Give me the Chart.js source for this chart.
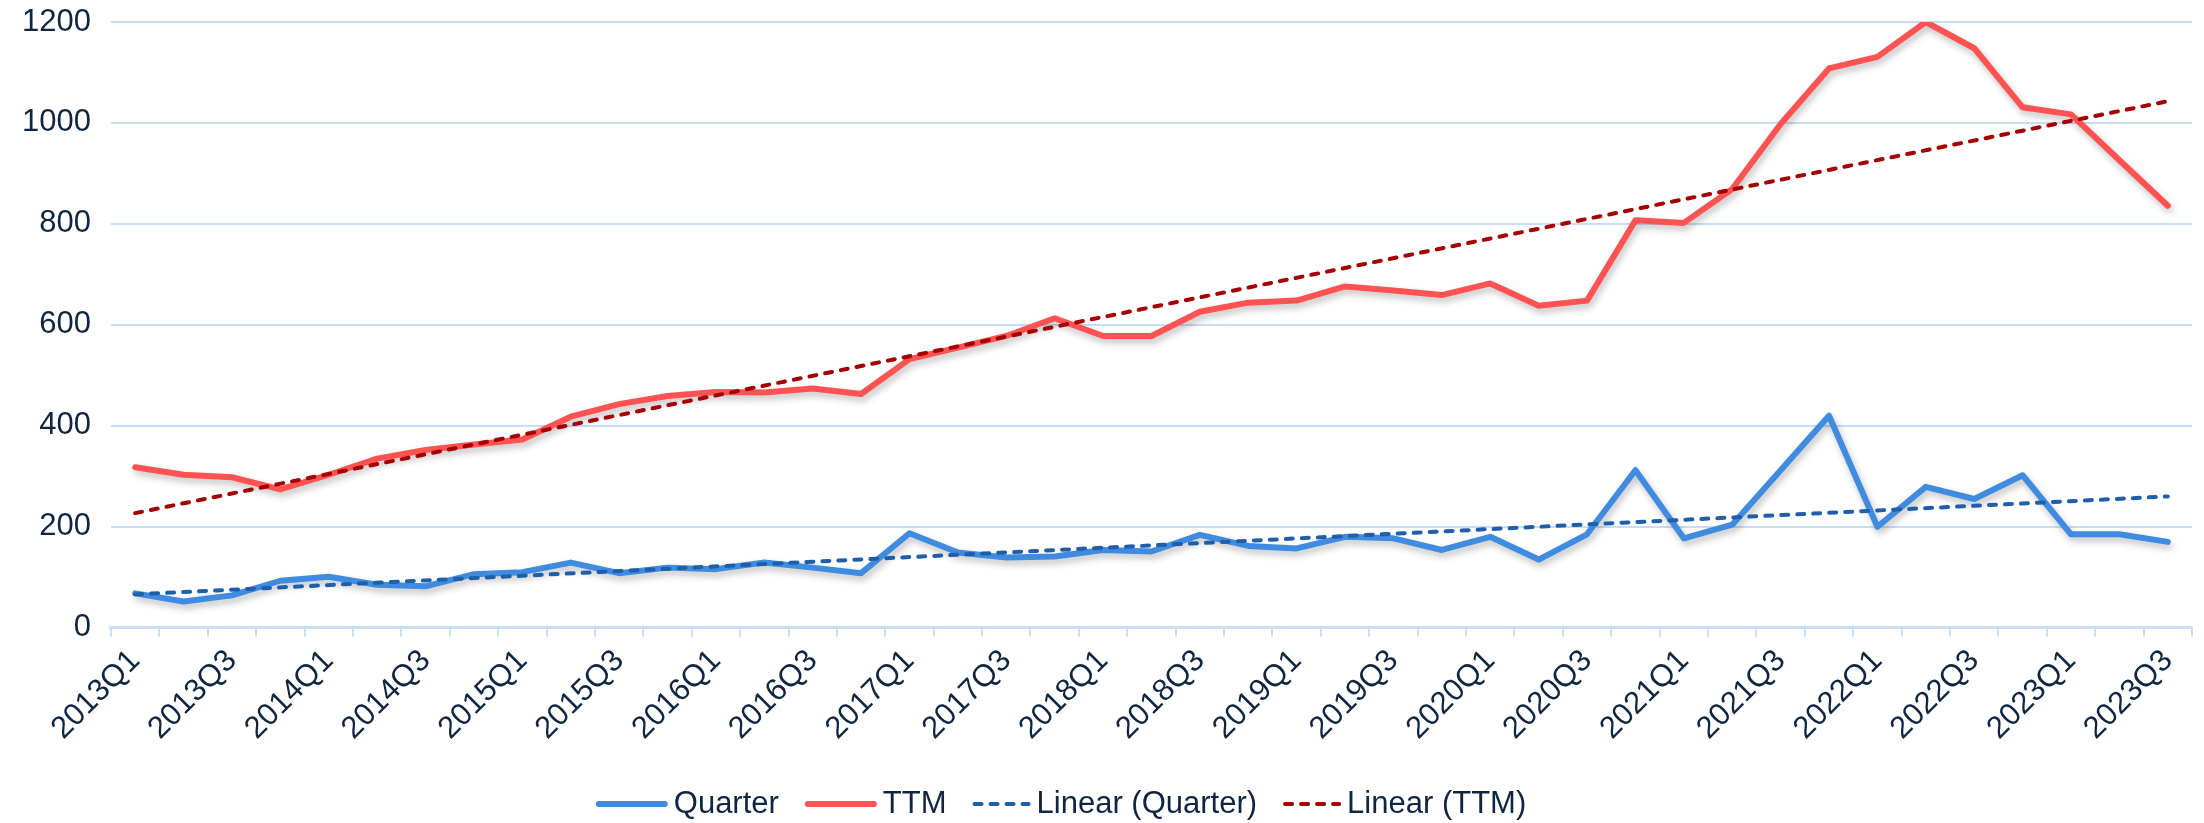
<!DOCTYPE html>
<html>
<head>
<meta charset="utf-8">
<script src="https://cdn.jsdelivr.net/npm/chart.js@4.4.1/dist/chart.umd.min.js"></script>
<style>
  html, body { margin: 0; padding: 0; background: #ffffff; }
  #wrap { width: 2204px; height: 823px; position: relative; }
</style>
</head>
<body>
<div id="wrap"><canvas id="c"></canvas></div>
<script>
const categories = [
  '2013Q1','2013Q2','2013Q3','2013Q4',
  '2014Q1','2014Q2','2014Q3','2014Q4',
  '2015Q1','2015Q2','2015Q3','2015Q4',
  '2016Q1','2016Q2','2016Q3','2016Q4',
  '2017Q1','2017Q2','2017Q3','2017Q4',
  '2018Q1','2018Q2','2018Q3','2018Q4',
  '2019Q1','2019Q2','2019Q3','2019Q4',
  '2020Q1','2020Q2','2020Q3','2020Q4',
  '2021Q1','2021Q2','2021Q3','2021Q4',
  '2022Q1','2022Q2','2022Q3','2022Q4',
  '2023Q1','2023Q2','2023Q3'
];
const quarterValues = [
  68, 52, 64, 93,
  101, 85, 82, 106,
  110, 129, 108, 119,
  116, 129, 119, 108,
  187, 149, 139, 141,
  154, 151, 184, 162,
  157, 180, 177, 154,
  180, 135, 185, 312,
  177, 204, 312, 420,
  200, 279, 255, 302,
  185, 185, 170
];
const ttmValues = [
  318, 303, 298, 274,
  303, 335, 352, 363,
  373, 418, 443, 459,
  467, 466, 474, 463,
  532, 555, 578, 613,
  578, 578, 626, 644,
  648, 676, 668, 659,
  682, 638, 648, 807,
  802, 869, 998, 1108,
  1131, 1200, 1148, 1031,
  1017, 926, 836
];
// trend line end values (first and last category)
const trendQuarterEnds = [66, 260];
const trendTTMEnds = [227, 1043];
const yTicks = [0, 200, 400, 600, 800, 1000, 1200];
const seriesNames = ['Quarter', 'TTM', 'Linear (Quarter)', 'Linear (TTM)'];

const FONT = "'Liberation Sans', Arial, sans-serif";
const TEXT = '#0f2540';
const GRID = '#c9ddf4';
const FONT_SIZE = 31;

const first = categories[0], last = categories[categories.length - 1];

const shadowPlugin = {
  id: 'lineShadow',
  beforeDatasetDraw(chart, args) {
    const ds = chart.data.datasets[args.index];
    if (ds._shadow) {
      const ctx = chart.ctx;
      ctx.save();
      ctx.shadowColor = 'rgba(0,0,0,0.26)';
      ctx.shadowBlur = 7;
      ctx.shadowOffsetX = 2;
      ctx.shadowOffsetY = 4;
    }
  },
  afterDatasetDraw(chart, args) {
    const ds = chart.data.datasets[args.index];
    if (ds._shadow) chart.ctx.restore();
  }
};

// Legend drawn on the canvas: line sample + label for each dataset, in a centered row
const lineLegend = {
  id: 'lineLegend',
  afterDraw(chart, args, opts) {
    const ctx = chart.ctx;
    ctx.save();
    ctx.font = FONT_SIZE + 'px ' + FONT;
    ctx.textBaseline = 'middle';
    ctx.textAlign = 'left';
    const items = chart.data.datasets.map(ds => ({
      ds,
      sample: ds.borderDash ? opts.dashSample : opts.solidSample,
      textW: ctx.measureText(ds.label).width
    }));
    const total = items.reduce((s, it) => s + it.sample + opts.gap + it.textW, 0) + opts.spacing * (items.length - 1);
    let x = opts.centerX - total / 2;
    const y = opts.y;
    items.forEach(it => {
      ctx.beginPath();
      ctx.strokeStyle = it.ds.borderColor;
      ctx.lineWidth = it.ds.borderWidth;
      ctx.lineCap = 'round';
      ctx.setLineDash(it.ds.borderDash ? it.ds.borderDash : []);
      const hw = it.ds.borderWidth / 2;
      ctx.moveTo(x + hw, y);
      ctx.lineTo(x + it.sample - hw, y);
      ctx.stroke();
      ctx.setLineDash([]);
      ctx.fillStyle = TEXT;
      ctx.fillText(it.ds.label, x + it.sample + opts.gap, y);
      x += it.sample + opts.gap + it.textW + opts.spacing;
    });
    ctx.restore();
  }
};

new Chart(document.getElementById('c'), {
  type: 'line',
  data: {
    labels: categories,
    datasets: [
      {
        label: seriesNames[0], data: quarterValues, _shadow: true,
        borderColor: '#3f8be0', backgroundColor: '#3f8be0',
        borderWidth: 6, pointRadius: 0, tension: 0, order: 2,
        borderJoinStyle: 'round', borderCapStyle: 'round'
      },
      {
        label: seriesNames[1], data: ttmValues, _shadow: true,
        borderColor: '#ff5252', backgroundColor: '#ff5252',
        borderWidth: 6, pointRadius: 0, tension: 0, order: 2,
        borderJoinStyle: 'round', borderCapStyle: 'round'
      },
      {
        label: seriesNames[2],
        data: [{x: first, y: trendQuarterEnds[0]}, {x: last, y: trendQuarterEnds[1]}],
        borderColor: '#1f5ea8', backgroundColor: '#1f5ea8',
        borderWidth: 4, borderDash: [7, 9], borderCapStyle: 'round',
        pointRadius: 0, tension: 0, order: 1
      },
      {
        label: seriesNames[3],
        data: [{x: first, y: trendTTMEnds[0]}, {x: last, y: trendTTMEnds[1]}],
        borderColor: '#a50000', backgroundColor: '#a50000',
        borderWidth: 4, borderDash: [7, 9], borderCapStyle: 'round',
        pointRadius: 0, tension: 0, order: 1
      }
    ]
  },
  options: {
    responsive: true,
    maintainAspectRatio: false,
    animation: false,
    devicePixelRatio: 1,
    layout: { padding: { left: 2, right: 12, top: 22, bottom: 70 } },
    plugins: {
      tooltip: { enabled: false },
      legend: { display: false },
      lineLegend: { centerX: 1061, y: 804, solidSample: 72, dashSample: 58, gap: 6, spacing: 26 }
    },
    scales: {
      x: {
        type: 'category',
        offset: true,
        afterFit: (s) => { s.paddingLeft = 0; s.paddingRight = 0; },
        grid: {
          offset: true,
          drawOnChartArea: false,
          drawTicks: true,
          tickLength: 9,
          color: GRID,
          lineWidth: 2
        },
        border: { display: true, color: GRID, width: 3 },
        ticks: {
          autoSkip: false,
          maxRotation: 45,
          minRotation: 45,
          padding: 6,
          color: TEXT,
          font: { family: FONT, size: FONT_SIZE },
          callback: function (v, i) { return i % 2 === 0 ? this.getLabelForValue(v) : ''; }
        }
      },
      y: {
        min: 0,
        max: 1200,
        afterBuildTicks: (scale) => { scale.ticks = yTicks.map(v => ({ value: v })); },
        afterFit: (s) => { s.paddingTop = 0; s.paddingBottom = 0; },
        grid: { color: GRID, lineWidth: 2, drawTicks: false },
        border: { display: false },
        ticks: {
          padding: 20,
          color: TEXT,
          font: { family: FONT, size: FONT_SIZE },
          callback: (v) => String(v)
        }
      }
    }
  },
  plugins: [shadowPlugin, lineLegend]
});
</script>
</body>
</html>
